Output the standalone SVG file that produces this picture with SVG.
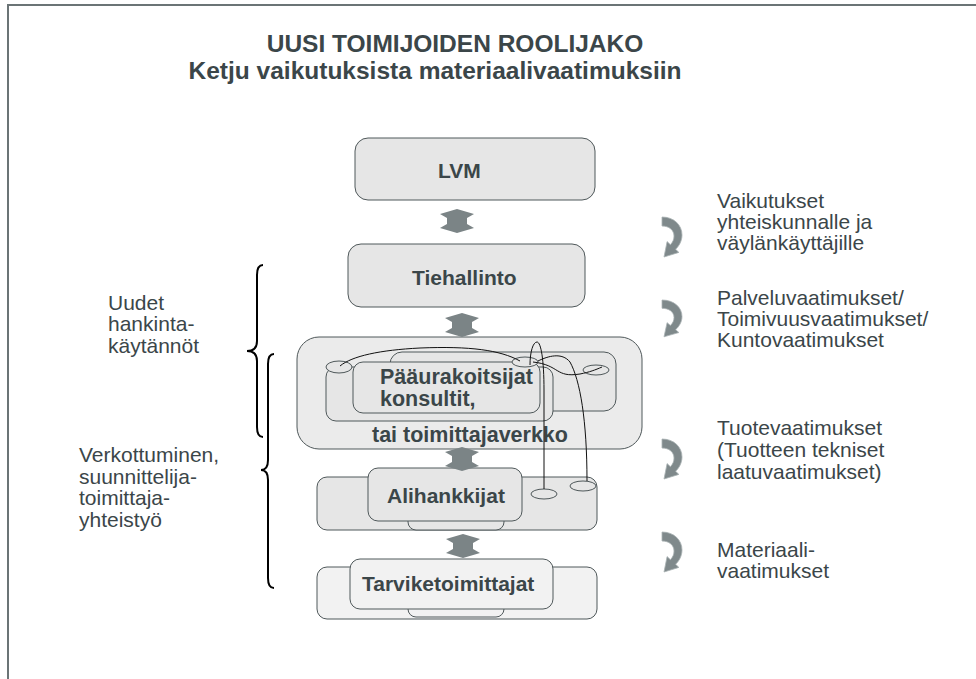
<svg xmlns="http://www.w3.org/2000/svg" width="976" height="679" viewBox="0 0 976 679">
<style>
.t{font-family:"Liberation Sans",Arial,sans-serif;fill:#3b4649}
.b{font-weight:bold}
.lbl{font-size:21px;font-weight:bold}
.lbl2{font-size:21.5px;font-weight:bold}
.side{font-size:21px}
.box{fill:#e6e6e6;stroke:#4f585a;stroke-width:1}
.boxb{fill:#ebebeb;stroke:#4f585a;stroke-width:1}
.boxl{fill:#f2f2f2;stroke:#4f585a;stroke-width:1}
.dbl{fill:#7b8486}
.curl{fill:#7f898b;stroke:#aab2b4;stroke-width:0.8}
.wire{fill:none;stroke:#111;stroke-width:1}
.brace{fill:none;stroke:#000;stroke-width:2}
</style>
<defs>
<path id="curl" d="M0,0 C12,0 20,8 20,18 C20,24 17,29 13.6,32.3 L16.9,35.4 L2,40 L5.1,24.6 L8.4,27.7 C11,25 12,22 12,19 C12,13 7,9 0,9 Z"/>
<polygon id="dbl" points="0,0 17,5 10,9 10,15 17,19 0,24 -17,19 -10,15 -10,9 -17,5"/>
</defs>
<rect width="976" height="679" fill="#fff"/>
<g id="frame" fill="none" stroke="#6b7476" stroke-width="2">
<path d="M8,679 L8,5 L976,5"/>
</g>
<g id="title" class="t b">
<text x="455" y="52" font-size="24.5" text-anchor="middle">UUSI TOIMIJOIDEN ROOLIJAKO</text>
<text x="435" y="79" font-size="24.5" text-anchor="middle">Ketju vaikutuksista materiaalivaatimuksiin</text>
</g>
<g id="node-lvm">
<rect class="box" x="355" y="138" width="240" height="62" rx="13"/>
<text class="t lbl" x="438" y="178">LVM</text>
</g>
<g id="node-tiehallinto">
<rect class="box" x="348" y="244" width="237" height="63" rx="13"/>
<text class="t lbl" x="412" y="285">Tiehallinto</text>
</g>
<g id="node-paaurakoitsijat">
<rect class="boxb" x="297" y="337" width="345" height="112" rx="22"/>
<rect class="box" x="390" y="352" width="226" height="59" rx="12"/>
<rect class="box" x="326" y="367" width="227" height="54" rx="10"/>
<ellipse class="box" cx="339" cy="367" rx="13" ry="6"/>
<rect class="box" x="353" y="362" width="187" height="51" rx="10"/>
<ellipse class="box" cx="525" cy="362" rx="13" ry="5"/>
<ellipse class="box" cx="596" cy="370" rx="13" ry="5"/>
<text class="t lbl2" x="380" y="384">Pääurakoitsijat</text>
<text class="t lbl2" x="380" y="406">konsultit,</text>
<text class="t lbl2" x="372" y="442">tai toimittajaverkko</text>
</g>
<g id="node-alihankkijat">
<rect class="box" x="317" y="477" width="280" height="53" rx="10"/>
<rect class="box" x="408" y="495" width="96" height="35" rx="8"/>
<rect class="box" x="368" y="468" width="154" height="53" rx="10"/>
<ellipse class="box" cx="544" cy="494" rx="13" ry="5"/>
<ellipse class="box" cx="583" cy="486" rx="13" ry="5"/>
<text class="t lbl" x="387" y="503">Alihankkijat</text>
</g>
<g id="node-tarviketoimittajat">
<rect class="boxl" x="317" y="567" width="280" height="52" rx="10"/>
<rect class="boxl" x="408" y="585" width="96" height="32" rx="8"/>
<rect class="boxl" x="350" y="559" width="203" height="50" rx="10"/>
<text class="t lbl" x="362" y="591">Tarviketoimittajat</text>
</g>
<g id="connectors">
<use href="#dbl" class="dbl" x="457" y="209"/>
<use href="#dbl" class="dbl" x="462" y="313"/>
<use href="#dbl" class="dbl" x="462" y="447"/>
<use href="#dbl" class="dbl" x="463" y="534"/>
<path class="wire" d="M340,366 C352,356 380,350 420,348 C470,346 500,350 520,361"/>
<path class="wire" d="M533,362 C560,365 555,378 580,374 C590,372 595,370 602,367"/>
<path class="wire" d="M544,489 L544,390 C544,360 541,342 537,342 C533,342 530,352 530,365"/>
<path class="wire" d="M538,361 C548,356 562,352 570,362 C580,380 587,420 587,481"/>
</g>
<g id="right-labels" class="t side">
<use href="#curl" class="curl" transform="translate(662,217)"/>
<text x="717" y="208">Vaikutukset</text>
<text x="717" y="229">yhteiskunnalle ja</text>
<text x="717" y="250">väylänkäyttäjille</text>
<use href="#curl" class="curl" transform="translate(662,300) scale(1,0.92)"/>
<text x="717" y="305">Palveluvaatimukset/</text>
<text x="717" y="326">Toimivuusvaatimukset/</text>
<text x="717" y="347">Kuntovaatimukset</text>
<use href="#curl" class="curl" transform="translate(662,439)"/>
<text x="717" y="435">Tuotevaatimukset</text>
<text x="717" y="457">(Tuotteen tekniset</text>
<text x="717" y="479">laatuvaatimukset)</text>
<use href="#curl" class="curl" transform="translate(662,532)"/>
<text x="717" y="557">Materiaali-</text>
<text x="717" y="578">vaatimukset</text>
</g>
<g id="left-labels">
<path class="brace" d="M263,265 Q257,265 257,275 L257,341 Q257,351 247,351 Q257,351 257,361 L257,427 Q257,437 263,437"/>
<path class="brace" d="M274,354 Q268,354 268,364 L268,460 Q268,470 261,470 Q268,470 268,480 L268,578 Q268,588 274,588"/>
<g class="t side">
<text x="108" y="310">Uudet</text>
<text x="108" y="331">hankinta-</text>
<text x="108" y="353">käytännöt</text>
<text x="79" y="462">Verkottuminen,</text>
<text x="79" y="484">suunnittelija-</text>
<text x="79" y="505">toimittaja-</text>
<text x="79" y="527">yhteistyö</text>
</g>
</g>
</svg>
